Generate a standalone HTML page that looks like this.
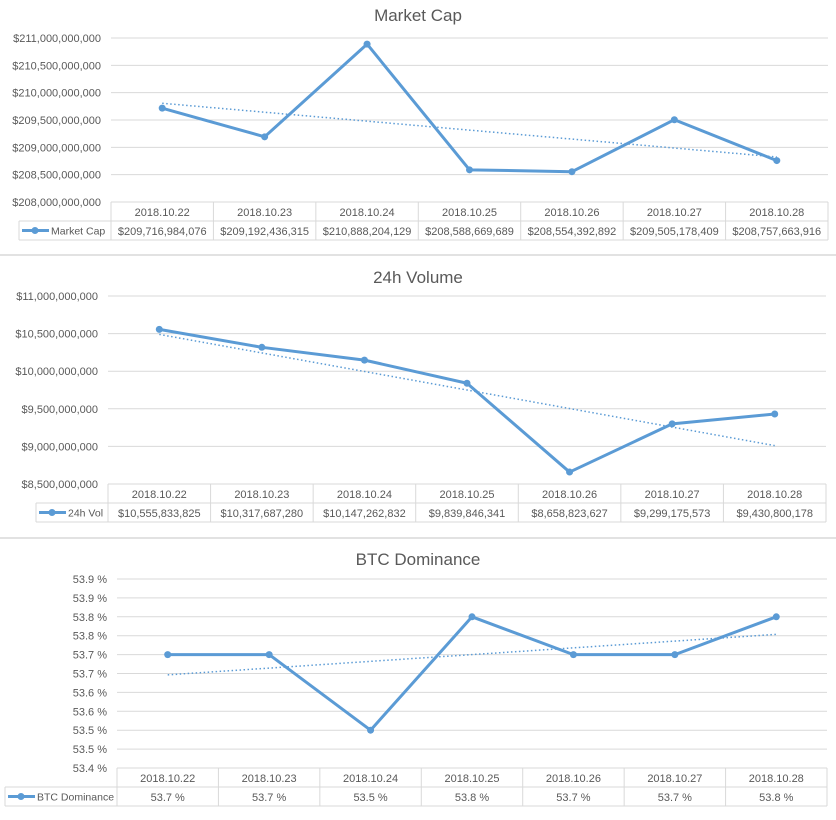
<!DOCTYPE html>
<html><head><meta charset="utf-8"><style>
html,body{margin:0;padding:0;background:#fff;}
svg{display:block;font-family:"Liberation Sans",sans-serif;}
</style></head>
<body>
<svg id="chart" width="836" height="820" viewBox="0 0 836 820" xmlns="http://www.w3.org/2000/svg"></svg>
<script>
const categories = ["2018.10.22","2018.10.23","2018.10.24","2018.10.25","2018.10.26","2018.10.27","2018.10.28"];
const marketCapValues = [209716984076,209192436315,210888204129,208588669689,208554392892,209505178409,208757663916];
const marketCapTicks = ["$208,000,000,000","$208,500,000,000","$209,000,000,000","$209,500,000,000","$210,000,000,000","$210,500,000,000","$211,000,000,000"];
const marketCapLabels = ["$209,716,984,076","$209,192,436,315","$210,888,204,129","$208,588,669,689","$208,554,392,892","$209,505,178,409","$208,757,663,916"];
const volumeValues = [10555833825,10317687280,10147262832,9839846341,8658823627,9299175573,9430800178];
const volumeTicks = ["$8,500,000,000","$9,000,000,000","$9,500,000,000","$10,000,000,000","$10,500,000,000","$11,000,000,000"];
const volumeLabels = ["$10,555,833,825","$10,317,687,280","$10,147,262,832","$9,839,846,341","$8,658,823,627","$9,299,175,573","$9,430,800,178"];
const dominanceValues = [53.70,53.70,53.50,53.80,53.70,53.70,53.80];
const dominanceTicks = ["53.4 %","53.5 %","53.5 %","53.6 %","53.6 %","53.7 %","53.7 %","53.8 %","53.8 %","53.9 %","53.9 %"];
const dominanceLabels = ["53.7 %","53.7 %","53.5 %","53.8 %","53.7 %","53.7 %","53.8 %"];

const NS="http://www.w3.org/2000/svg";
const svg=document.getElementById('chart');
const BLUE="#5b9bd5", GRID="#d9d9d9", TXT="#595959";
function mk(tag,attrs,parent){const e=document.createElementNS(NS,tag);for(const k in attrs)e.setAttribute(k,attrs[k]);(parent||svg).appendChild(e);return e;}

function drawChart(cfg){
  const g=mk('g',{});
  
  
  const t=mk('text',{x:418,y:cfg.titleY,'text-anchor':'middle','font-size':17,fill:TXT},g);
  t.textContent=cfg.title;
  
  
  const n=cfg.ticks.length;
  const yScale=v=>cfg.bottom-(v-cfg.min)/(cfg.max-cfg.min)*(cfg.bottom-cfg.top);
  const cw=(cfg.right-cfg.left)/categories.length;
  const xScale=i=>cfg.left+cw*(i+0.5);
  for(let i=0;i<n;i++){
    const y=cfg.bottom-i*(cfg.bottom-cfg.top)/(n-1);
    if(i>0){const l=mk('line',{x1:cfg.left,x2:cfg.right,y1:y,y2:y,stroke:GRID,'stroke-width':1},g);
      
      }
    const tl=mk('text',{x:cfg.labelX,y:y+4,'text-anchor':'end','font-size':11,fill:TXT},g);
    tl.textContent=cfg.ticks[i];
    
    
  }
  const rh=19, b=cfg.bottom;
  const tg=mk('g',{stroke:GRID,'stroke-width':1,fill:'none'},g);
  
  
  mk('line',{x1:cfg.left,x2:cfg.right,y1:b,y2:b},tg);
  mk('line',{x1:cfg.legL,x2:cfg.right,y1:b+rh,y2:b+rh},tg);
  mk('line',{x1:cfg.legL,x2:cfg.right,y1:b+2*rh,y2:b+2*rh},tg);
  mk('line',{x1:cfg.legL,x2:cfg.legL,y1:b+rh,y2:b+2*rh},tg);
  for(let i=0;i<=categories.length;i++){const x=cfg.left+cw*i;mk('line',{x1:x,x2:x,y1:b,y2:b+2*rh},tg);}
  categories.forEach((c,i)=>{
    const ct=mk('text',{x:xScale(i),y:b+14,'text-anchor':'middle','font-size':11,fill:TXT},g);
    ct.textContent=c;
    
    
    const vt=mk('text',{x:xScale(i),y:b+rh+14,'text-anchor':'middle','font-size':11,fill:TXT},g);
    vt.textContent=cfg.labels[i];
    
    
  });
  const lk=mk('g',{},g);
  
  
  const ly=b+rh+9.5;
  mk('line',{x1:cfg.legL+3,x2:cfg.legL+30,y1:ly,y2:ly,stroke:BLUE,'stroke-width':3},lk);
  mk('circle',{cx:cfg.legL+16,cy:ly,r:3.5,fill:BLUE},lk);
  const lt=mk('text',{x:cfg.legL+32,y:ly+4,'font-size':10.5,fill:TXT},lk);
  lt.textContent=cfg.series;
  const vals=cfg.values, m=vals.length;
  const mx=(m-1)/2, my=vals.reduce((a,v)=>a+v,0)/m;
  let sxy=0,sxx=0;vals.forEach((v,i)=>{sxy+=(i-mx)*(v-my);sxx+=(i-mx)*(i-mx);});
  const sl=sxy/sxx;
  const tr=mk('line',{x1:xScale(0),y1:yScale(my-sl*mx),x2:xScale(m-1),y2:yScale(my+sl*mx),stroke:BLUE,'stroke-width':1.5,'stroke-dasharray':'1.5,2.5'},g);
  
  
  const pts=vals.map((v,i)=>xScale(i)+','+yScale(v)).join(' ');
  const pl=mk('polyline',{points:pts,fill:'none',stroke:BLUE,'stroke-width':3,'stroke-linejoin':'round'},g);
  
  
  vals.forEach((v,i)=>{
    const c=mk('circle',{cx:xScale(i),cy:yScale(v),r:3.5,fill:BLUE},g);
    
    
  });
}
drawChart({name:'market-cap',title:'Market Cap',series:'Market Cap',titleY:21,top:38,bottom:202,left:111,right:828,labelX:101,legL:19,min:208e9,max:211e9,ticks:marketCapTicks,labels:marketCapLabels,values:marketCapValues});
drawChart({name:'volume',title:'24h Volume',series:'24h Vol',titleY:283,top:296,bottom:484,left:108,right:826,labelX:98,legL:36,min:8.5e9,max:11e9,ticks:volumeTicks,labels:volumeLabels,values:volumeValues});
drawChart({name:'btc-dominance',title:'BTC Dominance',series:'BTC Dominance',titleY:565,top:579,bottom:768,left:117,right:827,labelX:107,legL:5,min:53.4,max:53.9,ticks:dominanceTicks,labels:dominanceLabels,values:dominanceValues});
[255,538].forEach(y=>{
  const s=mk('line',{x1:0,x2:836,y1:y,y2:y,stroke:GRID,'stroke-width':1.5});
  
  
});
</script>
</body></html>
